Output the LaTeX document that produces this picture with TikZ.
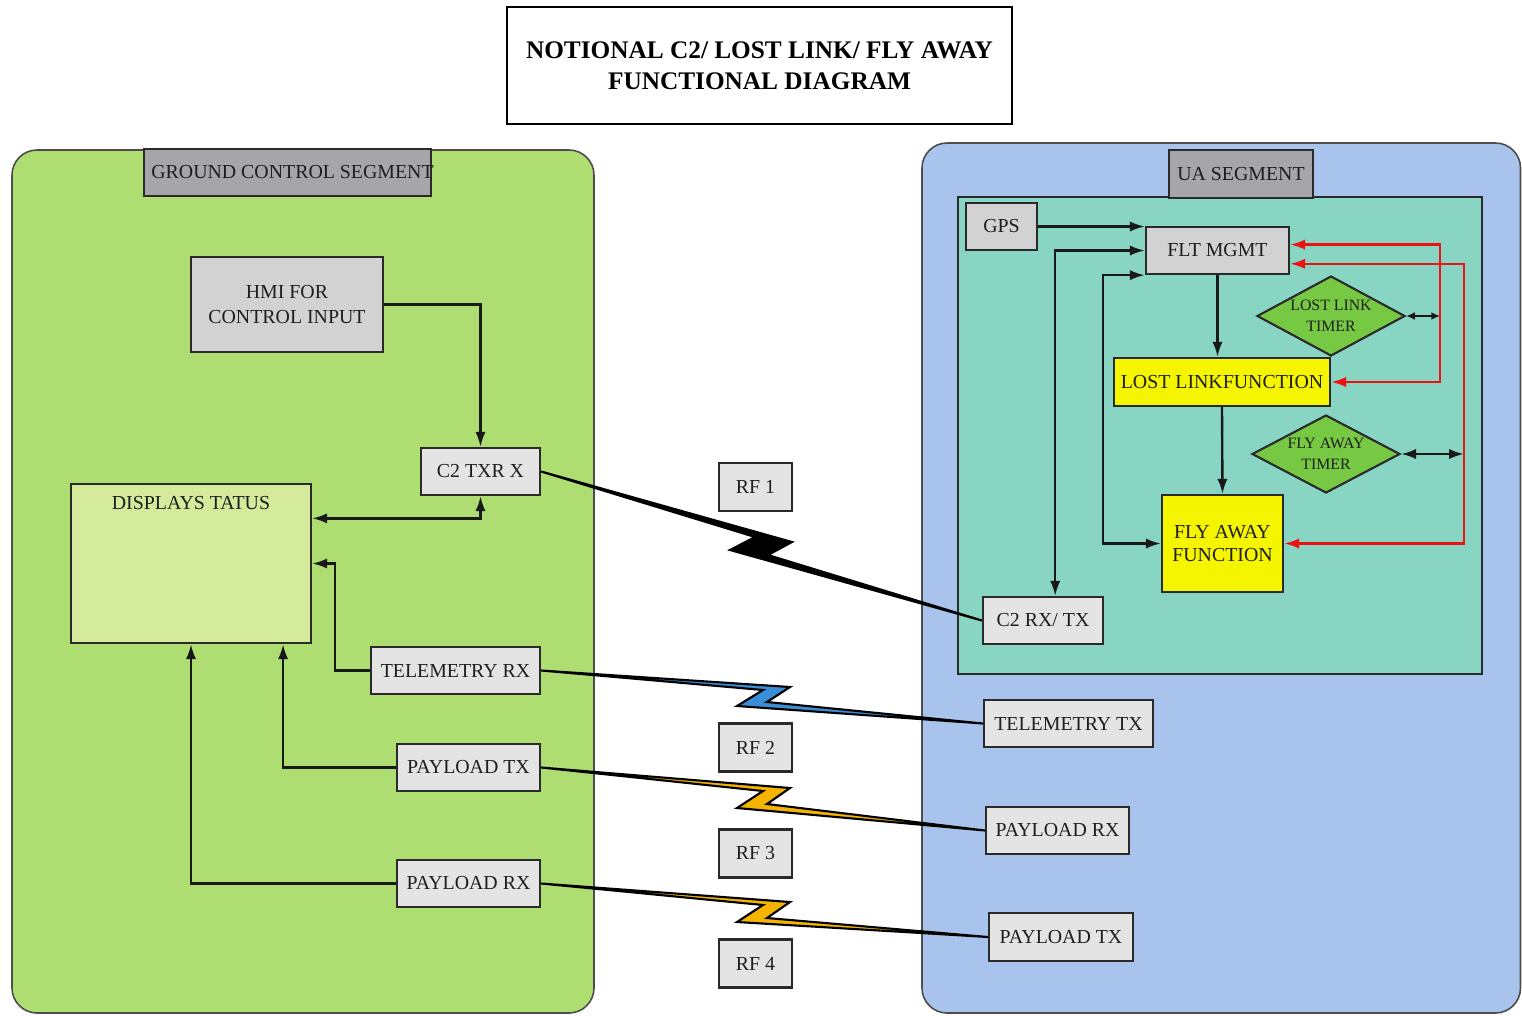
\documentclass[tikz,border=0pt]{standalone}
\usepackage{fontspec}
\setmainfont{Liberation Serif}
\usetikzlibrary{arrows.meta,shapes.geometric,calc}

\definecolor{gcsgreen}{HTML}{AEDE72}
\definecolor{dispgreen}{HTML}{D3EB9A}
\definecolor{uablue}{HTML}{A8C4EC}
\definecolor{uateal}{HTML}{88D5C4}
\definecolor{hdrgray}{HTML}{A6A6AA}
\definecolor{lightbox}{HTML}{E4E4E4}
\definecolor{midbox}{HTML}{D2D2D2}
\definecolor{funcyellow}{HTML}{F5F500}
\definecolor{timergreen}{HTML}{77C944}
\definecolor{linkred}{HTML}{EE1111}
\definecolor{edgegray}{HTML}{2A2A2A}
\definecolor{inkgray}{HTML}{1E1E1E}
\definecolor{rfblue}{HTML}{3A8ED8}
\definecolor{rforange}{HTML}{F5B400}

\newcommand{\pxu}{0.02cm}
\newcommand{\bodyfont}{\fontsize{11.3}{14.2}\selectfont}
\newcommand{\titlefont}{\fontsize{14.4}{17.6}\selectfont\bfseries}
\newcommand{\timerfont}{\fontsize{9}{12}\selectfont}

\begin{document}
\begin{tikzpicture}[x=0.02cm, y=-0.02cm,
	>={Latex[length=8.5pt,width=5.8pt]},
	every node/.style={inner sep=0pt, text=inkgray},
	sz/.style 2 args={minimum width=#1*\pxu, minimum height=#2*\pxu},
	box/.style={draw=edgegray, line width=1.3pt, fill=lightbox, font=\bodyfont, align=center},
	darkbox/.style={box, fill=midbox},
	hdr/.style={box, fill=hdrgray},
	func/.style={box, fill=funcyellow},
	timer/.style={diamond, draw=edgegray, line width=1.2pt, fill=timergreen},
	conn/.style={draw=black!90, line width=1.35pt},
	redconn/.style={draw=linkred, line width=1.35pt},
	bolt/.style={draw=black, line width=1.2pt}
	]
	
	\newcommand{\rfbolt}[7]{\filldraw[bolt, fill=#1] #2 -- #3 -- #4 -- #5 -- #6 -- #7 -- cycle;}
	
	\useasboundingbox (0,0) rectangle (1522,1015);
	
	% segments
	\filldraw[fill=gcsgreen, draw=black!70, line width=0.9pt, rounded corners=0.5cm] (12,150) rectangle (594,1013);
	\filldraw[fill=uablue, draw=black!70, line width=0.9pt, rounded corners=0.5cm] (922,143) rectangle (1520.5,1013);
	\filldraw[fill=uateal, draw=edgegray, line width=1.2pt] (958,197) rectangle (1482,674);
	
	% title
	\node[draw=black, line width=0.9pt, fill=white, sz={505}{117}, font=\titlefont, align=center, text=black] (title) at (759.5,65.5) {NOTIONAL C2/ LOST LINK/ FLY AWAY\\FUNCTIONAL DIAGRAM};
	
	% ground control segment
	\node[hdr, sz={287}{47}] (gcshead) at (287.5,172.5) {};
	\node[anchor=west, font=\bodyfont] (gcstext) at (151,172.5) {GROUND CONTROL SEGMENT};
	\node[darkbox, sz={192}{95}] (hmi) at (287,304.5) {HMI FOR\\CONTROL INPUT};
	\node[box, sz={119}{47}] (c2txrx) at (480.5,471.5) {C2 TXR X};
	\node[box, fill=dispgreen, sz={240}{159}] (display) at (191,563.5) {};
	\node[anchor=north, font=\bodyfont] (disptext) at ([yshift=-0.26cm]display.north) {DISPLAYS TATUS};
	\node[box, sz={169}{47}] (telemrx) at (455.5,670.5) {TELEMETRY RX};
	\node[box, sz={143}{47}] (paytxL) at (468.5,767.5) {PAYLOAD TX};
	\node[box, sz={143}{47}] (payrxL) at (468.5,883.5) {PAYLOAD RX};
	
	% rf labels
	\node[box, sz={73}{48}] (rf1) at (755.5,487) {RF 1};
	\node[box, sz={73}{48}] (rf2) at (755.5,747.5) {RF 2};
	\node[box, sz={73}{48}] (rf3) at (755.5,853.5) {RF 3};
	\node[box, sz={73}{48}] (rf4) at (755.5,963.5) {RF 4};
	
	% ua segment
	\node[hdr, sz={144}{48}] (uahead) at (1241,174) {UA SEGMENT};
	\node[darkbox, sz={71}{47}] (gps) at (1001.5,226.5) {GPS};
	\node[darkbox, sz={143}{47}] (fltmgmt) at (1217.5,250.5) {FLT MGMT};
	\node[timer, sz={148}{80}] (lltimer) at (1331,316) {};
	\node[font=\timerfont, align=center] (lltimertext) at (lltimer) {LOST LINK\\TIMER};
	\node[func, sz={216}{48}] (llfunc) at (1222,382) {LOST LINKFUNCTION};
	\node[timer, sz={148}{78}] (fatimer) at (1326,454) {};
	\node[font=\timerfont, align=center] (fatimertext) at (fatimer) {FLY AWAY\\TIMER};
	\node[func, sz={121}{97}, font=\fontsize{11.3}{13}\selectfont] (fafunc) at (1222.5,543.5) {FLY AWAY\\FUNCTION};
	\node[box, sz={120}{47}] (c2rxtx) at (1043,620.5) {C2 RX/ TX};
	\node[box, sz={169}{47}] (telemtx) at (1068.5,723.5) {TELEMETRY TX};
	\node[box, sz={143}{47}] (payrxR) at (1057.5,830.5) {PAYLOAD RX};
	\node[box, sz={144}{48}] (paytxR) at (1061,937) {PAYLOAD TX};
	
	% ground connectors
	\draw[conn, ->] (hmi.east) -| (c2txrx.north);
	\draw[conn, <->] ($(display.north east)!0.22!(display.south east)$) -| (c2txrx.south);
	\draw[conn, ->] (telemrx.west) -- ++(-35,0) |- (display.east);
	\draw[conn, ->] (paytxL.west) -| ($(display.south west)!0.88!(display.south east)$);
	\draw[conn, ->] (payrxL.west) -| (display.south);
	
	% ua connectors
	\draw[conn, ->] (gps.east) -- (gps.east -| fltmgmt.west);
	\draw[conn, <->] (fltmgmt.west) -| ($(c2rxtx.north west)!0.6!(c2rxtx.north east)$);
	\draw[conn, <->] (fltmgmt.south west) -- ++(-42,0) |- (fafunc.west);
	\draw[conn, ->] (fltmgmt.south) -- (fltmgmt.south |- llfunc.north);
	\draw[conn, ->] (llfunc.south) -- (fafunc.north);
	\draw[redconn, <->] ($(fltmgmt.north east)!0.38!(fltmgmt.south east)$) -- ++(150,0) |- (llfunc.east);
	\draw[redconn, <->] ($(fltmgmt.north east)!0.77!(fltmgmt.south east)$) -- ++(174,0) |- (fafunc.east);
	\draw[conn, <->, >={Latex[length=5pt,width=4.5pt]}] (lltimer.east) -- ++(34,0);
	\draw[conn, <->] (fatimer.east) -- ++(63,0);
	
	% rf links
	\rfbolt{black}{(c2txrx.east)}{(792,542)}{(768,555)}{(c2rxtx.west)}{(730,550)}{(755,537)}
	\rfbolt{rfblue}{(telemrx.east)}{(790,687)}{(767,702)}{(telemtx.west)}{(737,706)}{(763,690)}
	\rfbolt{rforange}{(paytxL.east)}{(790,788)}{(767,804)}{(payrxR.west)}{(737,808)}{(763,791)}
	\rfbolt{rforange}{(payrxL.east)}{(790,902)}{(767,918)}{(paytxR.west)}{(737,922)}{(763,905)}
	
\end{tikzpicture}
\end{document}
